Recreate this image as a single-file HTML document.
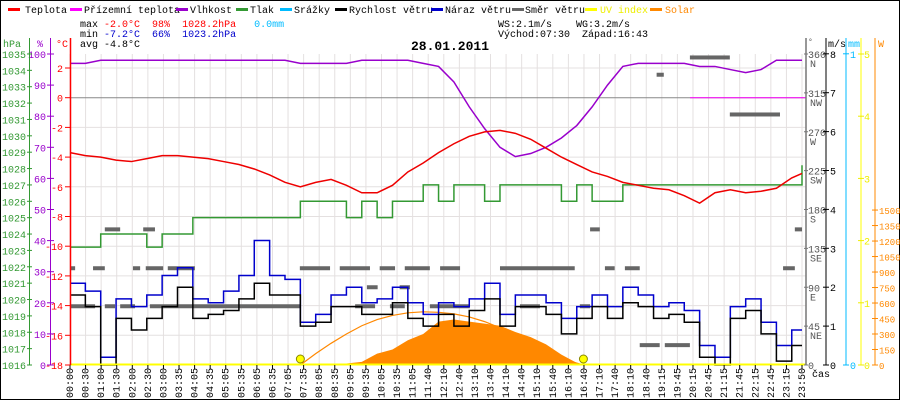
<!DOCTYPE html>
<html><head><meta charset="utf-8"><style>
body{margin:0;background:#fff}
svg{display:block;font-family:"Liberation Mono",monospace;font-size:10px}
text{white-space:pre}
</style></head><body>
<svg id="c" width="900" height="400" viewBox="0 0 900 400" xml:space="preserve">
<rect x="0.5" y="0.5" width="899" height="399" fill="#fff" stroke="#000"/>
<g id="grid"></g>
<g id="series"></g>
<g id="axes"></g>
<g>
<rect x="8" y="8" width="12" height="3" fill="#f00"/><text x="25" y="13">Teplota</text>
<rect x="70" y="8" width="12" height="3" fill="#f0f"/><text x="84" y="13">Přízemní teplota</text>
<rect x="176" y="8" width="12" height="3" fill="#90c"/><text x="190" y="13">Vlhkost</text>
<rect x="236" y="8" width="12" height="3" fill="#393"/><text x="250" y="13">Tlak</text>
<rect x="280" y="8" width="12" height="3" fill="#0bf"/><text x="294" y="13">Srážky</text>
<rect x="335" y="8" width="12" height="3" fill="#000"/><text x="349" y="13">Rychlost větru</text>
<rect x="431" y="8" width="12" height="3" fill="#00c"/><text x="445" y="13">Náraz větru</text>
<rect x="512" y="8" width="12" height="3" fill="#666"/><text x="525" y="13">Směr větru</text>
<rect x="585" y="8" width="12" height="3" fill="#ff0"/><text x="600" y="13" fill="#ee0">UV index</text>
<rect x="650" y="8" width="12" height="3" fill="#f80"/><text x="665" y="13" fill="#f80">Solar</text>
</g>
<g>
<text x="80" y="27">max <tspan fill="#f00">-2.0°C</tspan>  <tspan fill="#f00">98%</tspan>  <tspan fill="#f00">1028.2hPa</tspan>   <tspan fill="#0bf">0.0mm</tspan></text>
<text x="80" y="37">min <tspan fill="#00c">-7.2°C</tspan>  <tspan fill="#00c">66%</tspan>  <tspan fill="#00c">1023.2hPa</tspan></text>
<text x="80" y="47">avg -4.8°C</text>
<text x="498" y="27">WS:2.1m/s    WG:3.2m/s</text>
<text x="498" y="37">Východ:07:30  Západ:16:43</text>
<text x="450" y="50" text-anchor="middle" font-weight="bold" font-size="13">28.01.2011</text>
</g>
</svg>
<script>
const times=[0,30,60,90,120,150,180,210,240,270,300,330,360,390,420,450,480,510,540,570,600,630,660,690,720,750,780,810,840,870,900,930,960,990,1020,1050,1080,1110,1140,1170,1200,1230,1260,1290,1320,1350,1380,1410,1430];
const temp=[-3.7,-3.9,-4.0,-4.2,-4.3,-4.1,-3.9,-3.9,-4.0,-4.1,-4.3,-4.5,-4.8,-5.2,-5.7,-6.0,-5.7,-5.5,-5.9,-6.4,-6.4,-5.9,-5.0,-4.4,-3.7,-3.1,-2.6,-2.3,-2.2,-2.4,-2.8,-3.4,-4.0,-4.5,-5.0,-5.3,-5.7,-5.9,-6.1,-6.2,-6.6,-7.1,-6.4,-6.2,-6.4,-6.3,-6.1,-5.4,-5.1];
const humidity=[97,97,98,98,98,98,98,98,98,98,98,98,98,98,98,97,97,97,97,98,98,98,98,97,96,91,83,76,70,67,68,70,73,77,83,90,96,97,97,97,97,96,96,95,94,95,98,98,98];
const pressure=[1023.2,1023.2,1024,1024,1024,1023.2,1024,1024,1025,1025,1025,1025,1025,1025,1025,1026,1026,1026,1025,1026,1025,1026,1026,1027,1026,1027,1027,1026,1027,1027,1027,1027,1026,1027,1026,1026,1027,1027,1027,1027,1027,1027,1027,1027,1027,1027,1027,1027,1028.2];
const windSpeed=[1.8,1.5,0,1.2,0.9,1.2,1.5,2.0,1.2,1.3,1.4,1.7,2.1,1.8,1.8,1.0,1.1,1.5,1.5,1.3,1.3,1.6,1.2,1.0,1.3,1.0,1.4,1.7,1.0,1.5,1.5,1.3,0.8,1.2,1.5,1.2,1.6,1.5,1.2,1.3,1.1,0.2,0,1.2,1.4,0.8,0.1,0.5,0.5];
const windGust=[2.1,1.9,0.2,1.7,1.5,1.8,2.3,2.5,1.7,1.6,1.9,2.3,3.2,2.3,2.2,1.1,1.3,1.8,2.0,1.6,1.7,2.0,1.6,1.3,1.6,1.5,1.7,2.1,1.3,1.8,1.8,1.6,1.2,1.5,1.8,1.5,2.0,1.8,1.5,1.6,1.4,0.5,0.2,1.5,1.7,1.1,0.5,0.9,0.9];
const dirStart=[68,143,1016,1416,0,45,123,148,191,449,527,605,654,723,840,1045,1084,1393,580,644,0,68,98,156,557,625,703,879,996,1113,1162,1211,1146,1289];
const dirEnd=[98,166,1035,1430,10,68,137,182,244,508,586,635,703,762,986,1064,1113,1416,601,664,49,88,127,449,596,654,781,918,1016,1152,1211,1289,1160,1387];
const dirDeg=[157,157,157,157,112,112,112,112,112,112,112,112,112,112,112,112,112,112,90,90,68,68,68,68,68,68,68,68,68,23,23,356,336,290];
const solarTimes=[450,480,510,540,570,600,630,660,690,720,750,780,810,840,870,900,930,960,990,1005];
const solarVals=[0,3,8,15,30,110,150,240,300,420,440,420,400,380,320,270,200,100,20,0];
const clearTimes=[450,480,510,540,570,600,630,660,690,720,750,780,810,840,870,900,930,960,1003];
const clearVals=[0,110,210,300,380,440,480,505,515,510,495,465,420,360,290,210,130,60,0];
const timeLabels=["00:00","00:30","01:00","01:30","02:00","02:30","03:00","03:35","04:05","04:35","05:05","05:35","06:05","06:35","07:05","07:35","08:05","08:35","09:05","09:35","10:05","10:35","11:05","11:40","12:10","12:40","13:10","13:40","14:10","14:40","15:10","15:40","16:10","16:40","17:10","17:40","18:10","18:40","19:15","19:45","20:15","20:45","21:15","21:45","22:15","22:45","23:15","23:50"];
const tempTicks=[2,0,-2,-4,-6,-8,-10,-12,-14,-16,-18];
const humTicks=[100,90,80,70,60,50,40,30,20,10,0];
const presTicks=[1035,1034,1033,1032,1031,1030,1029,1028,1027,1026,1025,1024,1023,1022,1021,1020,1019,1018,1017,1016];
const dirTicks=[360,315,270,225,180,135,90,45,0];
const dirNames=["N","NW","W","SW","S","SE","E","NE",""];
const msTicks=[8,7,6,5,4,3,2,1,0];
const uvTicks=[5,4,3,2,1,0];
const solTicks=[1500,1350,1200,1050,900,750,600,450,300,150,0];

const NS="http://www.w3.org/2000/svg";
const X0=70,X1=802,YB=365;
const xT=m=>X0+m/1430*(X1-X0);
const yT=t=>YB-(t+18)*14.85;
const yH=h=>YB-h*3.11;
const yP=p=>YB-(p-1016)*16.37;
const yW=v=>YB-v*38.9;
const yD=d=>YB-d/360*311;
const yU=u=>YB-u*62.2;
const yS=w=>YB-w*0.1033;
function mk(tag,attrs,parent,txt){const e=document.createElementNS(NS,tag);for(const k in attrs)e.setAttribute(k,attrs[k]);if(txt!==undefined)e.textContent=txt;parent.appendChild(e);return e;}
const grid=document.getElementById('grid'),ser=document.getElementById('series'),ax=document.getElementById('axes');
timeLabels.forEach((l,i)=>{const x=X0+i*(X1-X0)/47;
 const g=mk('line',{x1:x,x2:x,y1:54,y2:YB,stroke:'#e4e0e0'},grid);
 
 
 mk('line',{x1:x,x2:x,y1:YB,y2:YB+4,stroke:'#000'},ax);
 const t=mk('text',{x:x+3,y:398,transform:`rotate(-90 ${x+3} 398)`},ax,l);
 
 
});
tempTicks.forEach(v=>{const y=yT(v);
 const g=mk('line',{x1:X0,x2:806,y1:y,y2:y,stroke:v===0?'#888':'#e4e0e0'},grid);
 
 
 mk('line',{x1:X0-5,x2:X0,y1:y,y2:y,stroke:'#f00'},ax);
 const t=mk('text',{x:X0-7,y:y+4,'text-anchor':'end',fill:'#f00'},ax,v);
 
 
});
mk('line',{x1:690,x2:806,y1:yT(0),y2:yT(0),stroke:'#f0f'},grid);
humTicks.forEach(v=>{const y=yH(v);
 mk('line',{x1:47,x2:54,y1:y,y2:y,stroke:'#90c'},ax);
 const t=mk('text',{x:46,y:y+4,'text-anchor':'end',fill:'#90c'},ax,v);
 
 
});
presTicks.forEach(v=>{const y=yP(v);
 mk('line',{x1:27,x2:32,y1:y,y2:y,stroke:'#393'},ax);
 const t=mk('text',{x:26,y:y+4,'text-anchor':'end',fill:'#393'},ax,v);
 
 
});
mk('line',{x1:29.5,x2:29.5,y1:38,y2:YB,stroke:'#393'},ax);
mk('line',{x1:50.5,x2:50.5,y1:38,y2:YB,stroke:'#90c'},ax);
mk('line',{x1:70.5,x2:70.5,y1:38,y2:YB,stroke:'#f00',"stroke-width":1.5},ax);
mk('text',{x:3,y:47,fill:'#393'},ax,'hPa');mk('text',{x:37,y:47,fill:'#90c'},ax,'%');mk('text',{x:56,y:47,fill:'#f00'},ax,'°C');
mk('line',{x1:806,x2:806,y1:38,y2:YB,stroke:'#777',"stroke-width":1.5},ax);
mk('line',{x1:826,x2:826,y1:38,y2:YB,stroke:'#000'},ax);
mk('line',{x1:846,x2:846,y1:38,y2:YB,stroke:'#0bf'},ax);
mk('line',{x1:861,x2:861,y1:38,y2:YB,stroke:'#ff0'},ax);
mk('line',{x1:875,x2:875,y1:38,y2:YB,stroke:'#f80'},ax);
mk('text',{x:808,y:44,fill:'#555','font-size':8},ax,'°');mk('text',{x:828,y:47},ax,'m/s');mk('text',{x:848,y:47,fill:'#0bf'},ax,'mm');mk('text',{x:878,y:47,fill:'#f80'},ax,'W');
dirTicks.forEach((v,i)=>{const y=yD(v);
 mk('line',{x1:804,x2:808,y1:y,y2:y,stroke:'#777'},ax);
 const t=mk('text',{x:808,y:y+4,fill:'#555'},ax,v);
 
 
 if(dirNames[i])mk('text',{x:810,y:y+13,fill:'#555'},ax,dirNames[i]);
});
msTicks.forEach(v=>{const y=yW(v);mk('line',{x1:823,x2:829,y1:y,y2:y,stroke:'#000'},ax);
 const t=mk('text',{x:830,y:y+4},ax,v);
 
 });
[1,0].forEach(v=>{const y=v?yW(8):YB;mk('line',{x1:843,x2:849,y1:y,y2:y,stroke:'#0bf'},ax);mk('text',{x:850,y:y+4,fill:'#0bf'},ax,v);});
uvTicks.forEach(v=>{const y=yU(v);mk('line',{x1:858,x2:864,y1:y,y2:y,stroke:'#ee0'},ax);
 const t=mk('text',{x:864,y:y+4,fill:'#ee0'},ax,v);
 
 });
solTicks.forEach(v=>{const y=yS(v);mk('line',{x1:872,x2:878,y1:y,y2:y,stroke:'#f80'},ax);
 const t=mk('text',{x:879,y:y+4,fill:'#f80','font-size':9},ax,v);
 
 });
mk('text',{x:812,y:377},ax,'čas');
const line=(xs,ys,fy,col,w,name,step)=>{let d='';xs.forEach((t,i)=>{const x=xT(t),y=fy(ys[i]);if(i===0)d+=`M${x},${y}`;else if(step)d+=`H${x}V${y}`;else d+=`L${x},${y}`;});
 const p=mk('path',{d,fill:'none',stroke:col,'stroke-width':w},ser);
 
 };
{let d=`M${xT(solarTimes[0])},${YB}`;solarTimes.forEach((t,i)=>d+=`L${xT(t)},${yS(solarVals[i])}`);d+=`L${xT(solarTimes[solarTimes.length-1])},${YB}Z`;
 const p=mk('path',{d,fill:'#f80'},ser);
 
 }
line(clearTimes,clearVals,yS,'#f80',1.2,'solar-theoretical-line');
dirDeg.forEach((d,i)=>{const r=mk('rect',{x:xT(dirStart[i]),y:yD(d)-2,width:xT(dirEnd[i])-xT(dirStart[i]),height:4,fill:'#666'},ser);
 
 });
line(times,pressure,yP,'#393',1.5,'pressure-line',true);
line(times,humidity,yH,'#90c',1.5,'humidity-line');
line(times,temp,yT,'#e00',1.5,'temperature-line');
line(times,windGust,yW,'#00c',1.5,'wind-gust-line',true);
line(times,windSpeed,yW,'#000',1.5,'wind-speed-line',true);
mk('line',{x1:X0,x2:806,y1:YB-0.5,y2:YB-0.5,stroke:'#ff0','stroke-width':2},ser);
[450,1003].forEach(t=>{const c=mk('circle',{cx:xT(t),cy:YB-6,r:4,fill:'#ff0',stroke:'#880'},ser);
 
 });
</script>
</body></html>
